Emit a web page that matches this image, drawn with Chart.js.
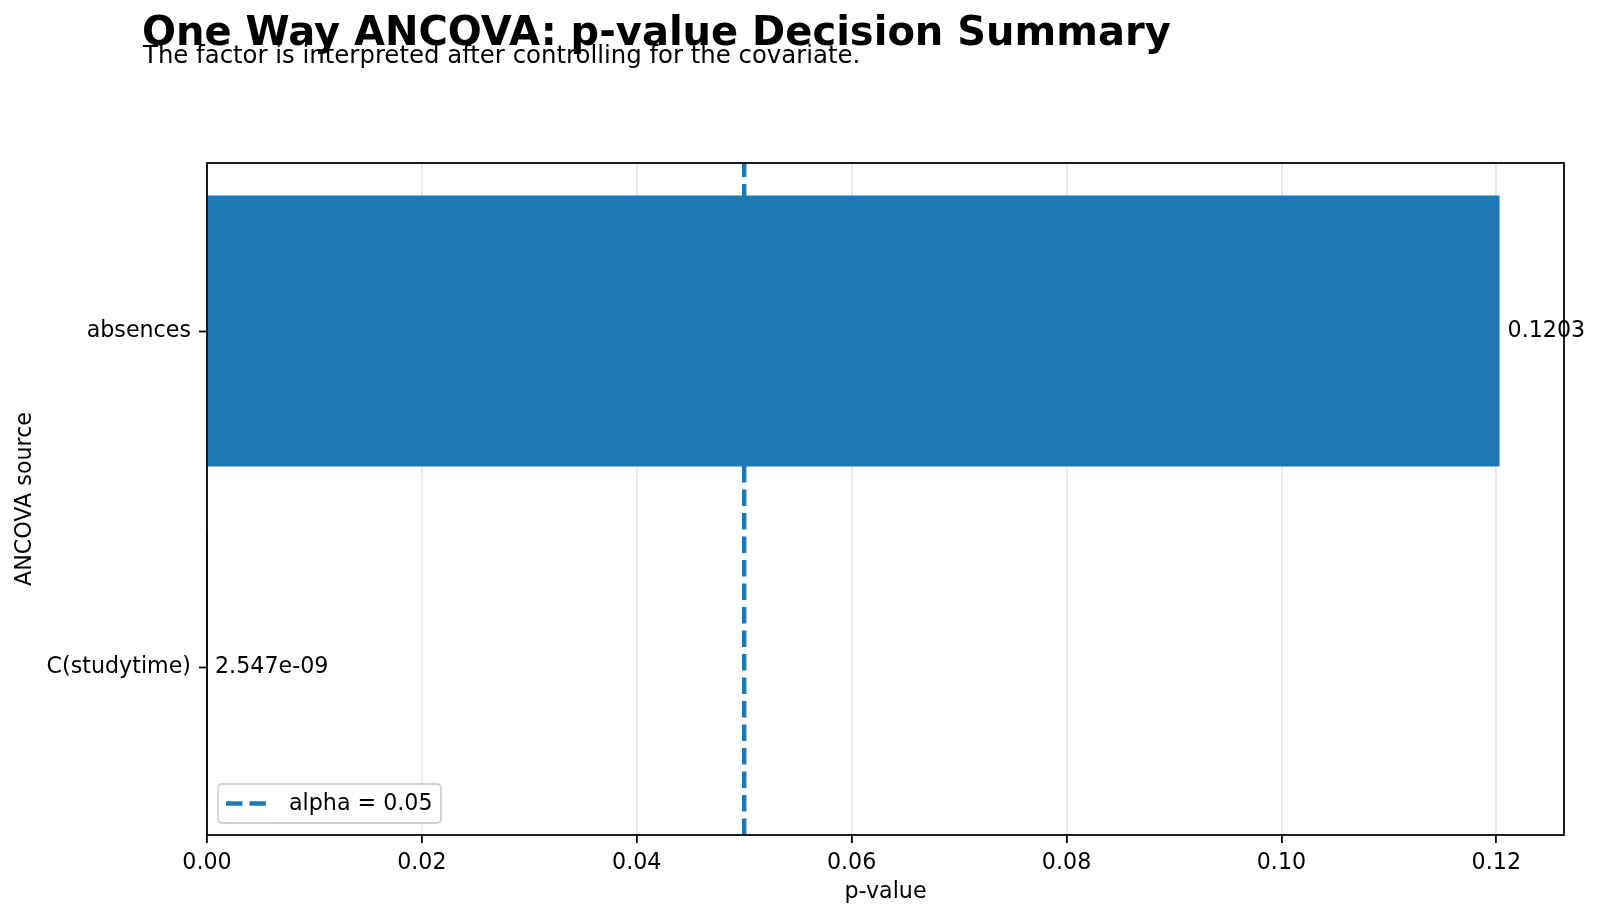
<!DOCTYPE html>
<html>
<head>
<meta charset="utf-8">
<script src="https://cdn.jsdelivr.net/npm/chart.js@4.4.1/dist/chart.umd.min.js"></script>
<style>
  html, body { margin: 0; padding: 0; background: #ffffff; }
  #wrap { width: 1600px; height: 920px; position: relative; }
  canvas { display: block; }
</style>
</head>
<body>
<div id="wrap"><canvas id="c" width="1600" height="920"></canvas></div>
<script>
// ---- data ----
const categories = ['absences', 'C(studytime)'];
const pValues = [0.1203, 2.547e-9];
const valueLabels = ['0.1203', '2.547e-09'];
const alphaLevel = 0.05;
const alphaLabel = 'alpha = 0.05';
const xMin = 0;
const xMax = 0.1263;
const xStep = 0.02;
const titleText = 'One Way ANCOVA: p-value Decision Summary';
const subtitleText = 'The factor is interpreted after controlling for the covariate.';
const xTitle = 'p-value';
const yTitle = 'ANCOVA source';

// ---- styles ----
const FONT = "'DejaVu Sans', 'Liberation Sans', sans-serif";
const BLUE = '#1f77b4';
const LW = 1.78;
const FS = 22.2;

const decorPlugin = {
  id: 'decor',
  beforeDatasetsDraw(chart) {
    // alpha reference line (drawn beneath bars)
    const ctx = chart.ctx, area = chart.chartArea;
    const x = chart.scales.x.getPixelForValue(alphaLevel);
    ctx.save();
    ctx.strokeStyle = BLUE;
    ctx.lineWidth = 4.44;
    ctx.setLineDash([16.4, 7.1]);
    ctx.beginPath();
    ctx.moveTo(x, area.bottom);
    ctx.lineTo(x, area.top);
    ctx.stroke();
    ctx.restore();
  },
  afterDraw(chart) {
    const ctx = chart.ctx, area = chart.chartArea;
    ctx.save();
    // value labels
    const meta = chart.getDatasetMeta(0);
    ctx.fillStyle = '#000';
    ctx.font = FS + 'px ' + FONT;
    ctx.textBaseline = 'middle';
    ctx.textAlign = 'left';
    meta.data.forEach((bar, i) => {
      ctx.fillText(valueLabels[i], bar.x + 8, bar.y);
    });
    // frame
    ctx.strokeStyle = '#000';
    ctx.lineWidth = LW;
    ctx.setLineDash([]);
    ctx.strokeRect(area.left, area.top, area.right - area.left, area.bottom - area.top);
    // legend
    const lx = area.left + 11, ly = area.bottom - 51, lw = 223, lh = 39;
    ctx.beginPath();
    ctx.roundRect(lx, ly, lw, lh, 4);
    ctx.fillStyle = 'rgba(255,255,255,0.8)';
    ctx.fill();
    ctx.strokeStyle = 'rgba(204,204,204,0.9)';
    ctx.lineWidth = LW;
    ctx.stroke();
    const cy = ly + lh / 2;
    ctx.strokeStyle = BLUE;
    ctx.lineWidth = 4.44;
    ctx.setLineDash([16.4, 7.1]);
    ctx.beginPath();
    ctx.moveTo(lx + 8, cy);
    ctx.lineTo(lx + 50, cy);
    ctx.stroke();
    ctx.setLineDash([]);
    ctx.fillStyle = '#000';
    ctx.font = FS + 'px ' + FONT;
    ctx.textBaseline = 'middle';
    ctx.fillText(alphaLabel, lx + 71, cy + 1);
    // title & subtitle
    ctx.textBaseline = 'alphabetic';
    ctx.font = 'bold 40px ' + FONT;
    ctx.fillText(titleText, 142, 45);
    ctx.font = '24.4px ' + FONT;
    ctx.fillText(subtitleText, 143, 63);
    ctx.restore();
  }
};

new Chart(document.getElementById('c'), {
  type: 'bar',
  data: {
    labels: categories,
    datasets: [{
      data: pValues,
      backgroundColor: BLUE,
      borderWidth: 0,
      barPercentage: 0.806,
      categoryPercentage: 1.0
    }]
  },
  options: {
    indexAxis: 'y',
    responsive: false,
    devicePixelRatio: 1,
    animation: false,
    layout: { padding: { top: 163, right: 36, left: 0, bottom: 0 } },
    plugins: { legend: { display: false }, tooltip: { enabled: false } },
    scales: {
      x: {
        type: 'linear',
        min: xMin,
        max: xMax,
        z: 1,
        afterFit(scale) { scale.height = 85; },
        border: { display: false },
        grid: {
          color: 'rgba(176,176,176,0.3)',
          lineWidth: LW,
          drawTicks: true,
          tickLength: 8,
          tickColor: '#000',
          tickWidth: LW
        },
        ticks: {
          stepSize: xStep,
          includeBounds: false,
          autoSkip: false,
          maxRotation: 0,
          padding: 7,
          color: '#000',
          font: { family: FONT, size: FS },
          callback: v => Number(v).toFixed(2)
        },
        title: {
          display: true,
          text: xTitle,
          color: '#000',
          font: { family: FONT, size: FS },
          padding: { top: 0, bottom: 14 }
        }
      },
      y: {
        type: 'category',
        afterFit(scale) { scale.width = 207; },
        border: { display: false },
        grid: {
          offset: false,
          drawOnChartArea: false,
          drawTicks: true,
          tickLength: 8,
          tickColor: '#000',
          tickWidth: LW
        },
        ticks: {
          padding: 8,
          color: '#000',
          font: { family: FONT, size: FS }
        },
        title: {
          display: true,
          text: yTitle,
          color: '#000',
          font: { family: FONT, size: FS },
          padding: { top: 12, bottom: 0 }
        }
      }
    }
  },
  plugins: [decorPlugin]
});
</script>
</body>
</html>
